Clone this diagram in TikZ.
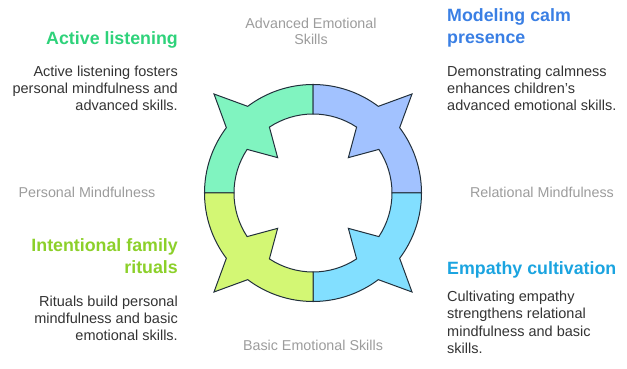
\documentclass[tikz,border=0pt]{standalone}
\usepackage{fontspec}
\setmainfont{Liberation Sans}
\usepackage{tikz}
\definecolor{ringline}{HTML}{22303C}
\definecolor{mint}{HTML}{80F4C0}
\definecolor{skyblue}{HTML}{A2C2FF}
\definecolor{cyanish}{HTML}{82DFFF}
\definecolor{limeish}{HTML}{D3F774}
\definecolor{titlegreen}{HTML}{2ED27A}
\definecolor{titleblue}{HTML}{3A7FE4}
\definecolor{titlelime}{HTML}{8CD02A}
\definecolor{titlecyan}{HTML}{1BA4E0}
\definecolor{axisgray}{HTML}{9C9C9C}
\definecolor{bodygray}{HTML}{333333}
\tikzstyle{ringpart} = [draw=ringline, line width=1pt, line join=miter]
\tikzstyle{headtext} = [inner sep=0pt, font=\fontsize{17.8}{22}\selectfont\bfseries]
\tikzstyle{bodytext} = [inner sep=0pt, text=bodygray, font=\fontsize{14.5}{17.2}\selectfont]
\tikzstyle{axislabel} = [inner sep=0pt, text=axisgray, align=center, font=\fontsize{14.3}{15.5}\selectfont]

\begin{document}
\begin{tikzpicture}[x=1pt, y=1pt]
    \useasboundingbox (0,0) rectangle (627,369);
    \coordinate (hub) at (313,176);
    \foreach \a/\col in {135/mint, 45/skyblue, -45/cyanish, -135/limeish}{
        \draw[ringpart, fill=\col, shift={(hub)}]
            (\a-45:108.5pt) arc[start angle=\a-45, end angle=\a-8, radius=108.5pt]
            -- (\a:140pt) -- (\a+8:108.5pt)
            arc[start angle=\a+8, end angle=\a+45, radius=108.5pt]
            -- (\a+45:79pt) arc[start angle=\a+45, end angle=\a+11.5, radius=79pt]
            -- (\a:50pt) -- (\a-11.5:79pt)
            arc[start angle=\a-11.5, end angle=\a-45, radius=79pt] -- cycle;
    }
    \node[axislabel, anchor=base] (advanced) at (311,324.7) {Advanced Emotional\\Skills};
    \node[axislabel, anchor=base] (basic) at (313,18.3) {Basic Emotional Skills};
    \node[axislabel, anchor=base] (personal) at (87,171) {Personal Mindfulness};
    \node[axislabel, anchor=base] (relational) at (542,171) {Relational Mindfulness};
    \node[headtext, text=titlegreen, anchor=base east] (listen) at (178,324.7) {Active listening};
    \node[bodytext, align=right, anchor=base east] (listentxt) at (178,258) {Active listening fosters\\personal mindfulness and\\advanced skills.};
    \node[headtext, text=titleblue, align=left, anchor=base west] (calm) at (447,325.7) {Modeling calm\\presence};
    \node[bodytext, align=left, anchor=base west] (calmtxt) at (447,258) {Demonstrating calmness\\enhances children's\\advanced emotional skills.};
    \node[headtext, text=titlelime, align=right, anchor=base east] (rituals) at (178,95.7) {Intentional family\\rituals};
    \node[bodytext, align=right, anchor=base east] (ritualstxt) at (178,28.3) {Rituals build personal\\mindfulness and basic\\emotional skills.};
    \node[headtext, text=titlecyan, anchor=base west] (empathy) at (447,94) {Empathy cultivation};
    \node[bodytext, align=left, anchor=base west] (empathytxt) at (447,15.7) {Cultivating empathy\\strengthens relational\\mindfulness and basic\\skills.};
\end{tikzpicture}
\end{document}
